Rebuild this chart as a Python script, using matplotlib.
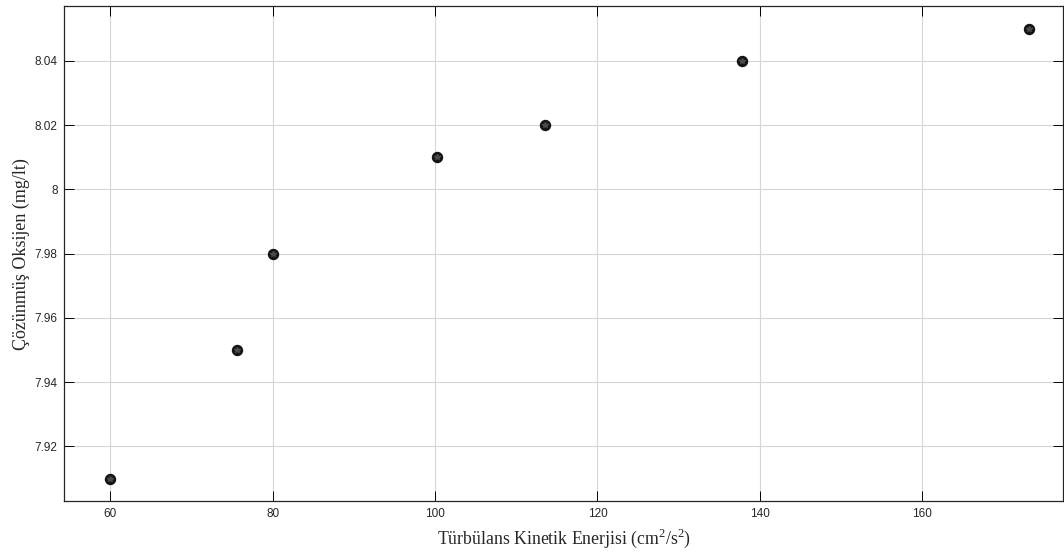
import matplotlib.pyplot as plt

plt.rcParams['mathtext.fontset'] = 'custom'
plt.rcParams['mathtext.rm'] = 'Liberation Serif'

# Turbulent kinetic energy vs dissolved oxygen
tke = [60.0, 75.6, 80.0, 100.2, 113.5, 137.8, 173.1]
dissolved_o2 = [7.91, 7.95, 7.98, 8.01, 8.02, 8.04, 8.05]

xticks = [60, 80, 100, 120, 140, 160]
yticks = [7.92, 7.94, 7.96, 7.98, 8.00, 8.02, 8.04]
ytick_labels = ['7.92', '7.94', '7.96', '7.98', '8', '8.02', '8.04']

fig = plt.figure(figsize=(10.64, 5.52), dpi=100)
ax = fig.add_axes([0.0606, 0.0924, 0.9389, 0.8962])

ax.plot(tke, dissolved_o2, 'o', color='#141414', markersize=7.2, zorder=3)
ax.plot(tke, dissolved_o2, '*', color='#4a4a4a', markersize=4, zorder=4)

ax.set_xlim(54.36, 177.4)
ax.set_ylim(7.903, 8.057)
ax.set_xticks(xticks)
ax.set_yticks(yticks)
ax.set_yticklabels(ytick_labels)

ax.grid(True, color='#d6d6d6', linewidth=0.8)
ax.set_axisbelow(True)
ax.tick_params(direction='in', length=7.5, width=0.7, top=True, right=True,
               labelsize=8.5, labelcolor='#262626', pad=5,
               labelfontfamily='Liberation Sans')
for sp in ax.spines.values():
    sp.set_linewidth(0.9)
    sp.set_color('#262626')

ax.set_xlabel(r'Türbülans Kinetik Enerjisi (cm$^2$/s$^2$)', fontsize=12.8,
              family='Liberation Serif', color='#262626', labelpad=5)
ax.set_ylabel('Çözünmüş Oksijen (mg/lt)', fontsize=13,
              family='Liberation Serif', color='#262626', labelpad=3)

fig.savefig('out.png', dpi=100)
